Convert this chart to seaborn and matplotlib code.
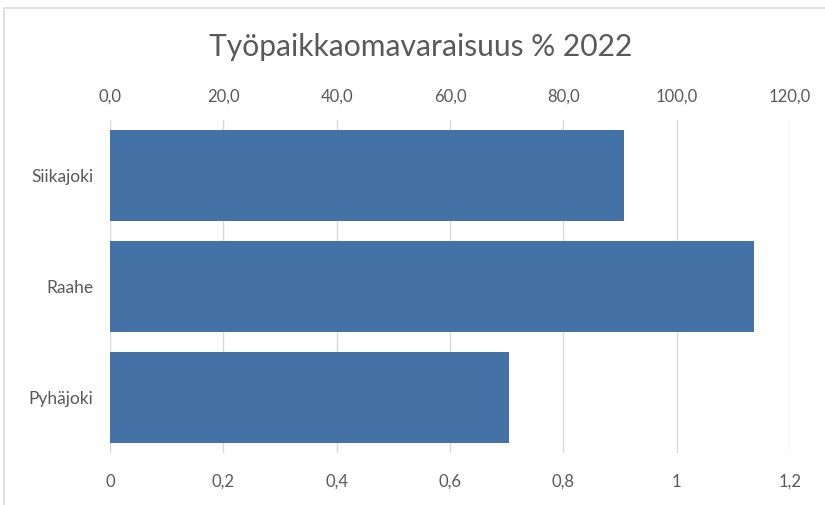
import matplotlib
matplotlib.use("Agg")
import matplotlib.pyplot as plt
import matplotlib.patches as mpatches
import seaborn as sns
import pandas as pd

# === Data ===
kunnat = ["Siikajoki", "Raahe", "Pyhäjoki"]
omavaraisuus = [90.7, 113.6, 70.4]
top_ticks = [0, 20, 40, 60, 80, 100, 120]
top_labels = ["0,0", "20,0", "40,0", "60,0", "80,0", "100,0", "120,0"]
bottom_ticks = [0, 0.2, 0.4, 0.6, 0.8, 1.0, 1.2]
bottom_labels = ["0", "0,2", "0,4", "0,6", "0,8", "1", "1,2"]

df = pd.DataFrame({"kunta": kunnat, "arvo": omavaraisuus})

sns.set_style("white")
plt.rcParams["font.family"] = ["Lato", "DejaVu Sans"]
text_col = "#595959"
grid_col = "#d9d9d9"

fig = plt.figure(figsize=(8.25, 5.05), dpi=100)
ax = fig.add_axes([110 / 825, 1 - 453 / 505, 680 / 825, 333 / 505])

sns.barplot(data=df, x="arvo", y="kunta", orient="h", color="#4472a6",
            width=0.82, saturation=1, linewidth=0, ax=ax)

ax.set_xlim(0, 120)
ax.set_ylim(2.5, -0.5)
ax.set_xlabel("")
ax.set_ylabel("")
ax.set_axisbelow(True)
ax.xaxis.grid(True, color=grid_col, linewidth=1.0)
ax.yaxis.grid(False)
for s in ax.spines.values():
    s.set_visible(False)

# === Top axis (percent) ===
ax.xaxis.tick_top()
ax.set_xticks(top_ticks)
ax.set_xticklabels(top_labels)
ax.tick_params(axis="x", length=0, pad=11, labelsize=12, labelcolor=text_col)
ax.tick_params(axis="y", length=0, pad=12, labelsize=12.5, labelcolor=text_col)

# === Bottom axis (ratio) ===
sec = ax.secondary_xaxis("bottom", functions=(lambda v: v / 100, lambda v: v * 100))
sec.set_xticks(bottom_ticks)
sec.set_xticklabels(bottom_labels)
sec.tick_params(length=0, pad=15, labelsize=12, labelcolor=text_col)
for s in sec.spines.values():
    s.set_visible(False)

fig.text(421 / 825, 1 - 47 / 505, "Työpaikkaomavaraisuus % 2022",
         ha="center", va="center", fontsize=21.6, color=text_col)

# chart frame
fig.patches.append(mpatches.Rectangle((4 / 825, -0.05), 1.1, 1.05 - 8 / 505,
                                      transform=fig.transFigure, fill=False,
                                      edgecolor=grid_col, linewidth=1.2))

fig.savefig("out.png", dpi=100)
